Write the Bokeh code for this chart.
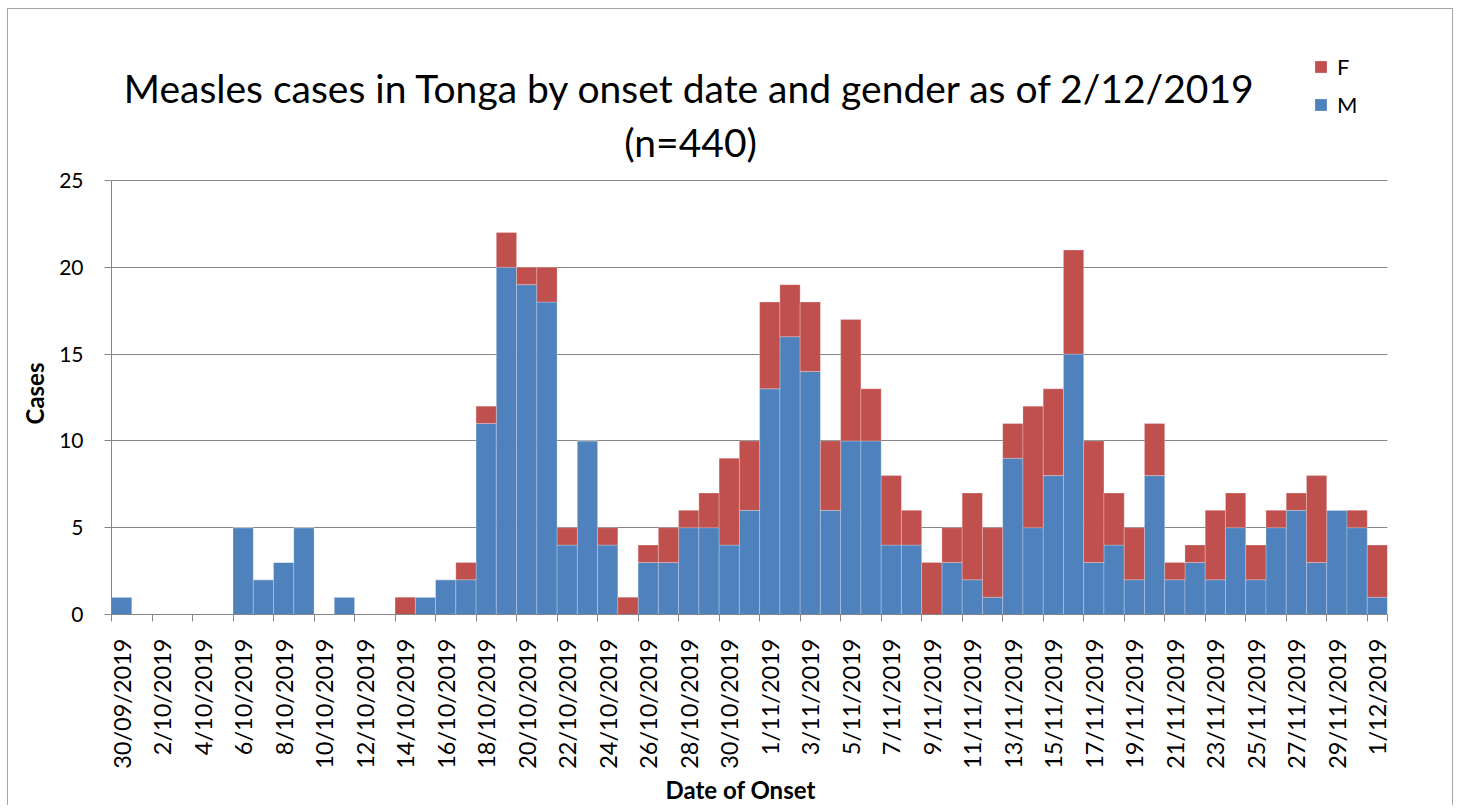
import math
import pandas as pd
from bokeh.plotting import figure
from bokeh.models import (ColumnDataSource, FixedTicker, LinearAxis, Range1d,
                          Legend, LegendItem, Label, Grid, Title)
from bokeh.embed import file_html
from bokeh.resources import INLINE

# ---------------- data ----------------
dates = [f"{d.day}/{d.month:02d}/{d.year}" for d in pd.date_range("2019-09-30", "2019-12-01")]
male = [1, 0, 0, 0, 0, 0, 5, 2, 3, 5,
        0, 1, 0, 0, 0, 1, 2, 2, 11, 20,
        19, 18, 4, 10, 4, 0, 3, 3, 5, 5,
        4, 6, 13, 16, 14, 6, 10, 10, 4, 4,
        0, 3, 2, 1, 9, 5, 8, 15, 3, 4,
        2, 8, 2, 3, 2, 5, 2, 5, 6, 3,
        6, 5, 1]
female = [0, 0, 0, 0, 0, 0, 0, 0, 0, 0,
          0, 0, 0, 0, 1, 0, 0, 1, 1, 2,
          1, 2, 1, 0, 1, 1, 1, 2, 1, 2,
          5, 4, 5, 3, 4, 4, 7, 3, 4, 2,
          3, 2, 5, 4, 2, 7, 5, 6, 7, 3,
          3, 3, 1, 1, 4, 2, 2, 1, 1, 5,
          0, 1, 3]
series = ["M", "F"]
colors = ["#4F81BD", "#C0504D"]
y_ticks = [0, 5, 10, 15, 20, 25]
title_line1 = "Measles cases in Tonga by onset date and gender as of 2/12/2019"
title_line2 = "(n=440)"
x_title = "Date of Onset"
y_title = "Cases"

FONT = "Lato"
GRAY = "#868686"

idx = list(range(len(dates)))
src = ColumnDataSource(dict(x=idx, M=male, F=female, date=dates))

# frame reaches the top of the figure so that title/legend drawn in it are not clipped
p = figure(width=1446, height=797, output_backend="svg", toolbar_location=None,
           title=None, x_range=Range1d(-0.5, len(dates) - 0.5), y_range=Range1d(0, 34.85),
           min_border_left=103, min_border_right=67, min_border_top=0,
           min_border_bottom=192, x_axis_type=None, y_axis_type=None)
p.outline_line_color = None
p.background_fill_color = "white"
p.border_fill_color = "white"
p.styles = {"margin-left": "7px", "margin-top": "8px",
            "border-top": "1px solid #A6A6A6", "border-left": "1px solid #A6A6A6",
            "border-right": "1px solid #A6A6A6"}

rs = p.vbar_stack(series, x="x", width=1.0, source=src, fill_color=colors,
                  line_color="white", line_alpha=0.3, line_width=0.8)

# y axis
yax = LinearAxis(ticker=FixedTicker(ticks=y_ticks), bounds=(0, 25))
yax.major_label_text_font = FONT
yax.major_label_text_font_size = "21px"
yax.major_label_text_color = "black"
yax.major_label_standoff = 21
yax.major_tick_out = 7
yax.major_tick_in = 0
yax.minor_tick_line_color = None
yax.axis_line_color = GRAY
yax.major_tick_line_color = GRAY
p.add_layout(yax, "left")
p.add_layout(Title(text=y_title, align="left", offset=190, standoff=15,
                   text_font=FONT, text_font_style="bold", text_font_size="24px",
                   text_color="black"), "left")

# x axis: labels every other day, tick marks between pairs of days (minor ticks)
xax = LinearAxis(ticker=FixedTicker(ticks=idx[::2],
                                    minor_ticks=[i - 0.5 for i in idx[::2]] + [len(dates) - 0.5]))
xax.major_label_overrides = {i: dates[i] for i in idx[::2]}
xax.major_label_orientation = math.pi / 2
xax.major_label_text_font = FONT
xax.major_label_text_font_size = "23.5px"
xax.major_label_text_color = "black"
xax.major_label_standoff = 17
xax.major_tick_out = 0
xax.major_tick_in = 0
xax.major_tick_line_color = None
xax.minor_tick_out = 7
xax.minor_tick_in = 0
xax.minor_tick_line_color = GRAY
xax.axis_line_color = GRAY
p.add_layout(xax, "below")
p.add_layout(Title(text=x_title, align="left", offset=554, standoff=2,
                   text_font=FONT, text_font_style="bold", text_font_size="24px",
                   text_color="black"), "below")

p.add_layout(Grid(dimension=1, ticker=yax.ticker, grid_line_color=GRAY, grid_line_width=1))

# chart title (two centred lines)
for txt, yy in [(title_line1, 30.35), (title_line2, 27.19)]:
    p.add_layout(Label(x=28.09, y=yy, text=txt, text_align="center", text_baseline="alphabetic",
                       text_font=FONT, text_font_size="39px", text_color="black"))

legend = Legend(items=[LegendItem(label="F", renderers=[rs[1]]),
                       LegendItem(label="M", renderers=[rs[0]])],
                location=(1202, 496), orientation="vertical",
                glyph_width=15, glyph_height=15, label_standoff=9, spacing=11,
                padding=0, margin=0, border_line_color=None, background_fill_alpha=0,
                label_text_font=FONT, label_text_font_size="22px", label_text_color="black")
p.add_layout(legend, "center")

open("out.html", "w").write(file_html(p, INLINE))
